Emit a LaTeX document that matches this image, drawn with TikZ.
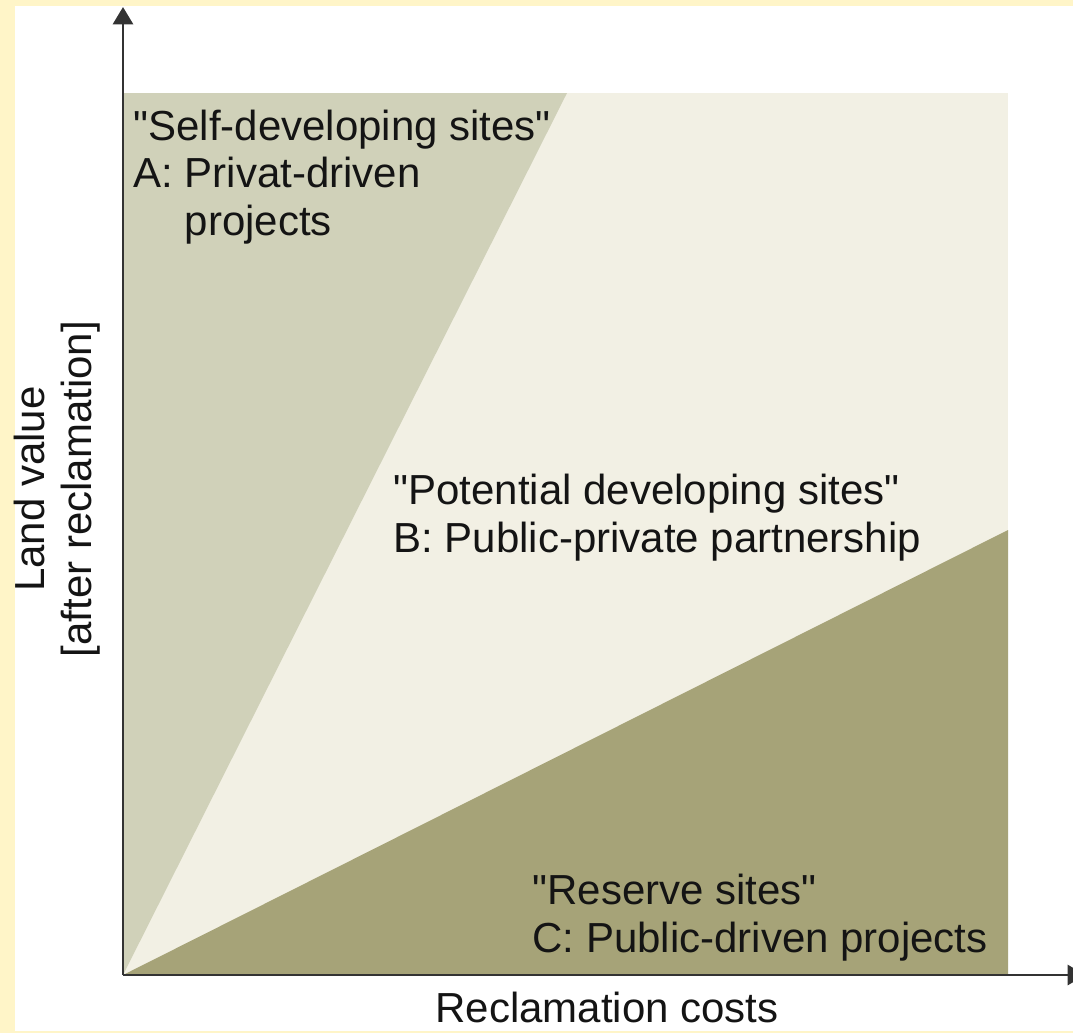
\documentclass[tikz,border=0pt]{standalone}
\usepackage{fontspec}
\setmainfont{Liberation Sans}
\usetikzlibrary{arrows.meta}

\definecolor{paneyellow}{HTML}{FFF5C8}
\definecolor{zoneA}{HTML}{D0D1B9}
\definecolor{zoneB}{HTML}{F2F0E4}
\definecolor{zoneC}{HTML}{A6A378}
\definecolor{axisgray}{HTML}{333333}

\newcommand{\qq}[1]{\textquotedbl#1\textquotedbl}

\tikzset{every picture/.style={line width=0.75pt}}
\tikzset{
  zonetext/.style={anchor=base west, inner sep=0pt, align=left, text=black!92,
    font=\fontsize{31.5}{35.5}\selectfont},
  axislabel/.style={inner sep=0pt, align=center, text=black!92,
    font=\fontsize{31.5}{35.5}\selectfont},
  axisline/.style={draw=axisgray, line width=2.2pt, -{Triangle[width=15pt,length=13pt]}}
}

\begin{document}
\begin{tikzpicture}[x=0.75pt,y=0.75pt,yscale=-1,xscale=1]
\useasboundingbox (0,0) rectangle (1073,1033);

% frame
\fill [paneyellow] (0,0) rectangle (1073,1033);
\fill [white] (15,6) rectangle (1073,1031);

% zones
\fill [zoneB] (123,93) rectangle (1008,975);
\fill [zoneA] (123,975) -- (123,93) -- (567,93) -- cycle;
\fill [zoneC] (123,975) -- (1008,530) -- (1008,975) -- cycle;

% labels (anchored on last line)
\node (selfdev) [zonetext] at (133,235) {\qq{Self-developing sites}\\A: Privat-driven\\\hphantom{A:~}projects};
\node (potdev) [zonetext] at (393,552) {\qq{Potential developing sites}\\B: Public-private partnership};
\node (reserve) [zonetext] at (532,952) {\qq{Reserve sites}\\C: Public-driven projects};

% axes
\coordinate (origin) at (123,975);
\coordinate (ytip) at (123,7);
\coordinate (xtip) at (1085,975);
\draw [axisline] (origin) -- (ytip);
\draw [axisline] (origin) -- (xtip);

\node (ylabel) [axislabel, rotate=90] at (57,489) {Land value\\{[}after reclamation{]}};
\node (xlabel) [axislabel, anchor=base west] at (435,1022) {Reclamation costs};

\end{tikzpicture}
\end{document}
